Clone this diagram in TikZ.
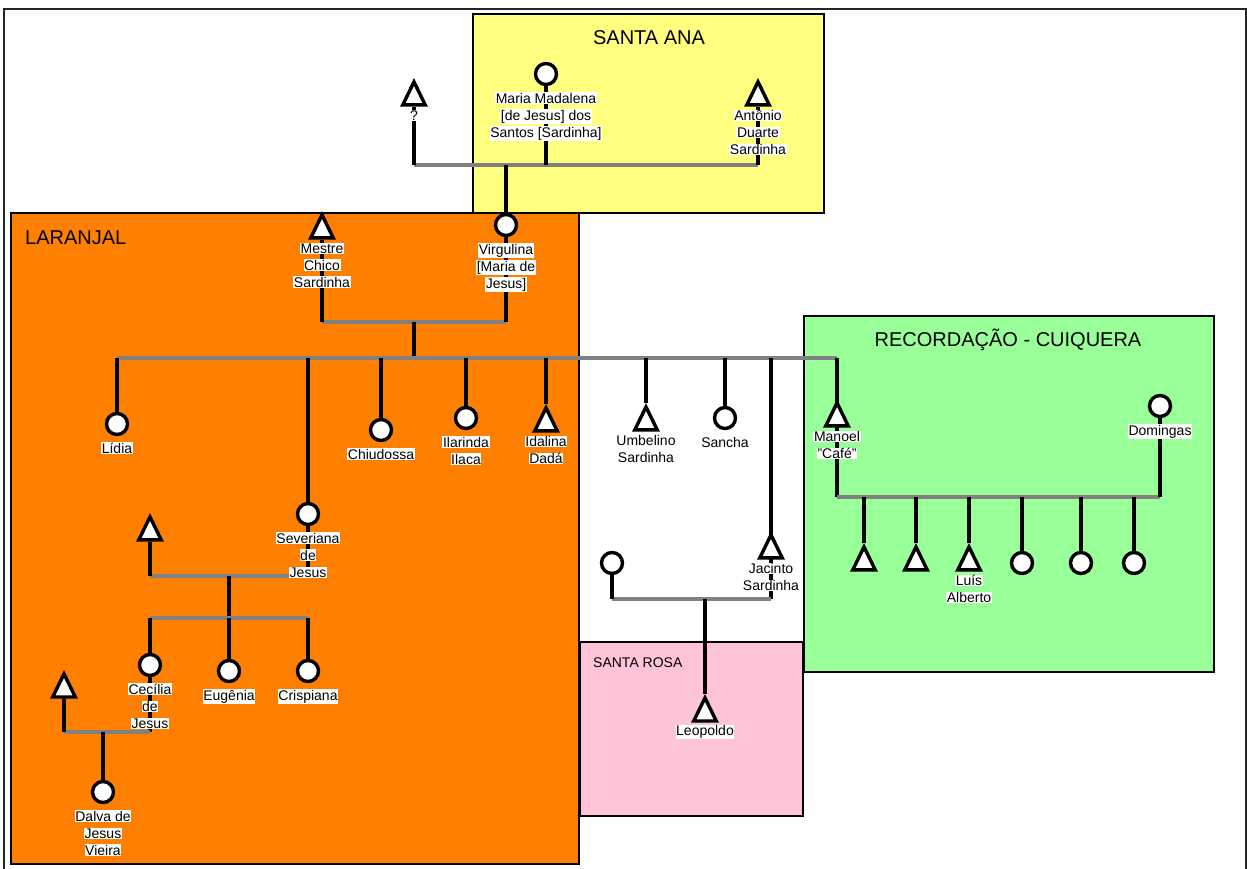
\documentclass[tikz,border=0pt]{standalone}
\usepackage{fontspec}
\setmainfont{Liberation Sans}
\usepackage{xcolor}
\usepackage{tikz}
\usetikzlibrary{
    shapes.geometric
}

\definecolor{santaana}{HTML}{FFFF80}
\definecolor{laranjal}{HTML}{FF8000}
\definecolor{recordacao}{HTML}{99FF99}
\definecolor{santarosa}{HTML}{FFC4D9}

\pgfdeclarelayer{regions}
\pgfdeclarelayer{lines}
\pgfsetlayers{regions,lines,main}

\setlength{\fboxsep}{0.6pt}
\newcommand{\wl}[1]{\colorbox{white}{#1}}

\begin{document}
\begin{tikzpicture}[
    x=1pt,
    y=-1pt,
    label distance=6pt,
    descent/.style={
        black,
        line width=3.6pt
    },
    marriage/.style={
        gray,
        line width=3.3pt
    },
    region/.style={
        draw=black,
        line width=1.8pt
    },
    male/.style={
        isosceles triangle,
        isosceles triangle apex angle=52,
        shape border rotate=90,
        draw=black,
        fill=white,
        line width=3.4pt,
        minimum width=22.5pt,
        minimum height=22.5pt,
        inner sep=0pt,
        anchor=apex
    },
    female/.style={
        circle,
        draw=black,
        fill=white,
        line width=3.4pt,
        minimum size=21pt,
        inner sep=0pt
    },
    person/.style={
        font=\fontsize{14}{17}\selectfont,
        align=center,
        inner sep=0pt
    },
    mperson/.style={
        person,
        yshift=3pt
    },
    place/.style={
        font=\fontsize{20}{24}\selectfont,
        inner sep=0pt
    }
]

\useasboundingbox (0,0) rectangle (1247,869);

% ============================================================
% REGIONS
% ============================================================

\begin{pgfonlayer}{regions}
\fill[white] (0,0) rectangle (1247,869);

\draw[black!85, line width=1.4pt]
    (4,869) -- (4,9) -- (1246,9) -- (1246,869);

\draw[region, fill=santaana]
    (473,14) rectangle (824,213);

\draw[region, fill=laranjal]
    (11,213) rectangle (579,864);

\draw[region, fill=recordacao]
    (804,316) rectangle (1214,672);

\draw[region, fill=santarosa]
    (580,642) rectangle (803,816);
\end{pgfonlayer}

\node[place, anchor=base]
    (tsantaana) at (649,45) {SANTA ANA};

\node[place, anchor=base west]
    (tlaranjal) at (25,244) {LARANJAL};

\node[place, anchor=base]
    (trecordacao) at (1008,346) {RECORDAÇÃO - CUIQUERA};

\node[place, font=\fontsize{14}{17}\selectfont, anchor=base west]
    (tsantarosa) at (593,667) {SANTA ROSA};

% ============================================================
% SANTA ANA
% ============================================================

\node[
    male,
    label={[mperson]270:\wl{?}}
]
    (unknown) at (414,78) {};

\node[
    female,
    label={[person]270:{\wl{Maria Madalena}\\\wl{[de Jesus] dos}\\\wl{Santos [Sardinha]}}}
]
    (madalena) at (546,74) {};

\node[
    male,
    label={[mperson]270:{\wl{Antônio}\\\wl{Duarte}\\\wl{Sardinha}}}
]
    (antonio) at (758,78) {};

\coordinate (sa) at (506,165);

% ============================================================
% LARANJAL
% ============================================================

\node[
    male,
    label={[mperson]270:{\wl{Mestre}\\\wl{Chico}\\\wl{Sardinha}}}
]
    (chico) at (322,211) {};

\node[
    female,
    label={[person]270:{\wl{Virgulina}\\\wl{[Maria de}\\\wl{Jesus]}}}
]
    (virgulina) at (506,225) {};

\coordinate (la) at (414,322);
\coordinate (laf) at (414,358);

% Children
\node[female, label={[person]270:\wl{Lídia}}]
    (lidia) at (117,424) {};

\node[female, label={[person]270:{\wl{Severiana}\\\wl{de}\\\wl{Jesus}}}]
    (severiana) at (308,514) {};

\node[female, label={[person]270:\wl{Chiudossa}}]
    (chiudossa) at (381,430) {};

\node[female, label={[person]270:{\wl{Ilarinda}\\\wl{Ilaca}}}]
    (ilarinda) at (466,418) {};

\node[male, label={[mperson]270:{\wl{Idalina}\\\wl{Dadá}}}]
    (idalina) at (546,404) {};

\node[male, label={[mperson]270:{\wl{Umbelino}\\\wl{Sardinha}}}]
    (umbelino) at (646,403) {};

\node[female, label={[person]270:\wl{Sancha}}]
    (sancha) at (725,418) {};

\node[male, label={[mperson]270:{\wl{Jacinto}\\\wl{Sardinha}}}]
    (jacinto) at (771,531) {};

\node[male, label={[mperson]270:{\wl{Manoel}\\\wl{"Café"}}}]
    (manoel) at (837,399) {};

% Severiana's family
\node[male]
    (sevhusband) at (150,513) {};

\coordinate (sv) at (229,576);
\coordinate (svf) at (229,618);

\node[female, label={[person]270:{\wl{Cecília}\\\wl{de}\\\wl{Jesus}}}]
    (cecilia) at (150,665) {};

\node[female, label={[person]270:\wl{Eugênia}}]
    (eugenia) at (229,671) {};

\node[female, label={[person]270:\wl{Crispiana}}]
    (crispiana) at (308,671) {};

% Cecília's family
\node[male]
    (cechusband) at (64,670) {};

\coordinate (cc) at (103,732);

\node[female, label={[person]270:{\wl{Dalva de}\\\wl{Jesus}\\\wl{Vieira}}}]
    (dalva) at (103,792) {};

% ============================================================
% SANTA ROSA
% ============================================================

\node[female]
    (jacwife) at (612,563) {};

\coordinate (jw) at (705,599);

\node[male, label={[mperson, yshift=1pt]270:\wl{Leopoldo}}]
    (leopoldo) at (705,694) {};

% ============================================================
% RECORDACAO - CUIQUERA
% ============================================================

\node[female, label={[person]270:\wl{Domingas}}]
    (domingas) at (1160,406) {};

\coordinate (mc) at (837,497);

\node[male] (rc1) at (864,543) {};
\node[male] (rc2) at (916,543) {};
\node[male, label={[mperson]270:{\wl{Luís}\\\wl{Alberto}}}]
    (rc3) at (969,543) {};
\node[female] (rc4) at (1022,563) {};
\node[female] (rc5) at (1081,563) {};
\node[female] (rc6) at (1134,563) {};

% ============================================================
% CONNECTORS
% ============================================================

\begin{pgfonlayer}{lines}
% Santa Ana couple
\draw[marriage] (unknown |- sa) -- (antonio |- sa);
\draw[descent] (unknown) -- (unknown |- sa);
\draw[descent] (madalena) -- (madalena |- sa);
\draw[descent] (antonio) -- (antonio |- sa);
\draw[descent] (sa) -- (virgulina);

% Laranjal couple
\draw[marriage] (chico |- la) -- (virgulina |- la);
\draw[descent] (chico) -- (chico |- la);
\draw[descent] (virgulina) -- (virgulina |- la);
\draw[descent] (la) -- (laf);

% Siblings
\draw[marriage] (lidia |- laf) -- (manoel |- laf);
\draw[descent] (lidia |- laf) -- (lidia);
\draw[descent] (severiana |- laf) -- (severiana |- sv);
\draw[descent] (chiudossa |- laf) -- (chiudossa);
\draw[descent] (ilarinda |- laf) -- (ilarinda);
\draw[descent] (idalina |- laf) -- (idalina);
\draw[descent] (umbelino |- laf) -- (umbelino);
\draw[descent] (sancha |- laf) -- (sancha);
\draw[descent] (jacinto |- laf) -- (jacinto |- jw);
\draw[descent] (manoel |- laf) -- (manoel |- mc);

% Severiana
\draw[marriage] (sevhusband |- sv) -- (severiana |- sv);
\draw[descent] (sevhusband) -- (sevhusband |- sv);
\draw[descent] (sv) -- (svf);
\draw[marriage] (cecilia |- svf) -- (crispiana |- svf);
\draw[descent] (cecilia |- svf) -- (cecilia |- cc);
\draw[descent] (eugenia |- svf) -- (eugenia);
\draw[descent] (crispiana |- svf) -- (crispiana);

% Cecília
\draw[marriage] (cechusband |- cc) -- (cecilia |- cc);
\draw[descent] (cechusband) -- (cechusband |- cc);
\draw[descent] (cc) -- (dalva);

% Jacinto
\draw[marriage] (jacwife |- jw) -- (jacinto |- jw);
\draw[descent] (jacwife) -- (jacwife |- jw);
\draw[descent] (jw) -- (leopoldo);

% Manoel
\draw[marriage] (manoel |- mc) -- (domingas |- mc);
\draw[descent] (domingas) -- (domingas |- mc);
\draw[descent] (rc1 |- mc) -- (rc1);
\draw[descent] (rc2 |- mc) -- (rc2);
\draw[descent] (rc3 |- mc) -- (rc3);
\draw[descent] (rc4 |- mc) -- (rc4);
\draw[descent] (rc5 |- mc) -- (rc5);
\draw[descent] (rc6 |- mc) -- (rc6);
\end{pgfonlayer}

\end{tikzpicture}
\end{document}
